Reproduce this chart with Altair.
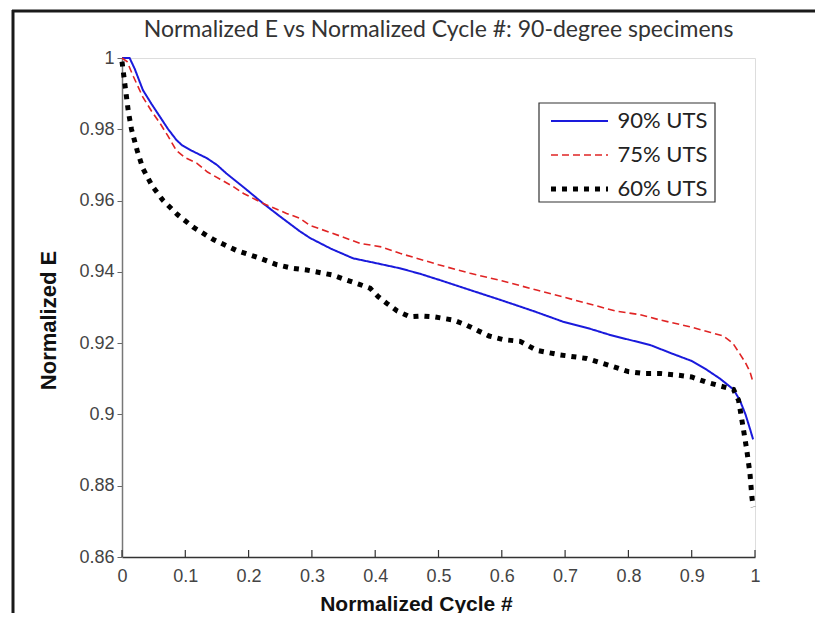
import altair as alt
import pandas as pd

series_names = ["90% UTS", "75% UTS", "60% UTS"]
series_colors = ["#1a1adc", "#e02424", "#000000"]
series_dashes = [[1, 0], [7, 4], [5, 6]]

x_90 = [0.0, 0.012, 0.02, 0.033, 0.047, 0.06, 0.073, 0.086, 0.095, 0.11, 0.134, 0.15, 0.165, 0.191,
        0.223, 0.25, 0.28, 0.297, 0.33, 0.365, 0.4, 0.439, 0.47, 0.502, 0.55, 0.6, 0.65, 0.697, 0.74,
        0.771, 0.80, 0.834, 0.87, 0.9, 0.924, 0.945, 0.966, 0.976, 0.985, 0.992, 0.997]
y_90 = [1.0, 1.0, 0.997, 0.991, 0.987, 0.9835, 0.980, 0.977, 0.9755, 0.974, 0.9719, 0.970, 0.9676,
        0.9639, 0.9592, 0.9555, 0.9515, 0.9495, 0.9465, 0.9438, 0.9425, 0.941, 0.9395, 0.9377, 0.9349,
        0.932, 0.929, 0.926, 0.924, 0.9223, 0.921, 0.9195, 0.917, 0.915, 0.9125, 0.910, 0.907, 0.904,
        0.900, 0.896, 0.893]

x_75 = [0.0, 0.008, 0.018, 0.033, 0.047, 0.06, 0.073, 0.086, 0.1, 0.118, 0.135, 0.155, 0.175, 0.192,
        0.223, 0.26, 0.281, 0.297, 0.33, 0.376, 0.41, 0.439, 0.5, 0.55, 0.6, 0.655, 0.7, 0.734, 0.78,
        0.818, 0.85, 0.897, 0.93, 0.95, 0.965, 0.976, 0.985, 0.992, 0.997]
y_75 = [1.0, 0.999, 0.9948, 0.989, 0.985, 0.9817, 0.978, 0.974, 0.972, 0.9705, 0.968, 0.966, 0.964,
        0.962, 0.9592, 0.9564, 0.955, 0.953, 0.951, 0.948, 0.947, 0.9452, 0.942, 0.9396, 0.9375, 0.9349,
        0.9328, 0.9312, 0.929, 0.928, 0.9265, 0.9246, 0.923, 0.922, 0.920, 0.917, 0.9145, 0.912, 0.909]

x_60 = [0.0, 0.005, 0.01, 0.015, 0.024, 0.033, 0.048, 0.065, 0.088, 0.112, 0.145, 0.181, 0.215, 0.245,
        0.27, 0.292, 0.333, 0.355, 0.375, 0.392, 0.405, 0.418, 0.435, 0.455, 0.475, 0.492, 0.523, 0.545,
        0.560, 0.58, 0.602, 0.629, 0.655, 0.692, 0.734, 0.76, 0.776, 0.8, 0.823, 0.85, 0.88, 0.9, 0.924,
        0.945, 0.966, 0.974, 0.981, 0.987, 0.992, 0.995, 0.997]
y_60 = [0.999, 0.992, 0.985, 0.980, 0.974, 0.969, 0.964, 0.960, 0.956, 0.9526, 0.949, 0.946, 0.944,
        0.942, 0.941, 0.9405, 0.9391, 0.9377, 0.9365, 0.9354, 0.933, 0.9312, 0.929, 0.9274, 0.9276,
        0.9274, 0.9265, 0.925, 0.9237, 0.922, 0.921, 0.9205, 0.918, 0.9167, 0.9157, 0.9143, 0.9134,
        0.912, 0.9115, 0.9115, 0.911, 0.9105, 0.909, 0.908, 0.907, 0.904, 0.8966, 0.890, 0.8835, 0.877,
        0.874]

x_ticks = [0, 0.1, 0.2, 0.3, 0.4, 0.5, 0.6, 0.7, 0.8, 0.9, 1.0]
y_ticks = [0.86, 0.88, 0.9, 0.92, 0.94, 0.96, 0.98, 1.0]
title_text = "Normalized E vs Normalized Cycle #: 90-degree specimens"

rows = []
for name, xs, ys in zip(series_names, [x_90, x_75, x_60], [y_90, y_75, y_60]):
    for xv, yv in zip(xs, ys):
        rows.append({"series": name, "x": xv, "y": yv})
df = pd.DataFrame(rows)
tick_df = pd.DataFrame({"t": x_ticks})
one_df = pd.DataFrame({"k": [0]})

label_font = "Liberation Sans"

xscale = alt.Scale(domain=[0, 1], nice=False, zero=False)
yscale = alt.Scale(domain=[0.86, 1.0], nice=False, zero=False)

width_expr = "datum.value === '60% UTS' ? 5 : (datum.value === '90% UTS' ? 2 : 1.6)"

legend = alt.Legend(
    title=None, orient="none", legendX=429, legendY=52, padding=0,
    symbolType="stroke", symbolSize=3250, symbolOffset=17.5,
    labelFont="Lato", labelFontSize=22, labelColor="#222", labelOffset=27, rowPadding=12,
    symbolStrokeWidth=alt.ExprRef(expr=width_expr),
)

stroke_width = (
    alt.when(alt.datum.series == "60% UTS").then(alt.value(5))
    .when(alt.datum.series == "90% UTS").then(alt.value(2))
    .otherwise(alt.value(1.6))
)

box = alt.Chart(one_df).mark_rect(fill="white", stroke="#333", strokeWidth=1.2).encode(
    x=alt.value(417), x2=alt.value(593), y=alt.value(45), y2=alt.value(144)
)

lines = alt.Chart(df).mark_line(strokeCap="butt").encode(
    x=alt.X("x:Q", scale=xscale, axis=alt.Axis(
        values=x_ticks, format="~g", title="Normalized Cycle #", ticks=False, tickSize=0,
        labelPadding=10, labelFlush=False, labelFont=label_font, labelFontSize=18, labelColor="#444",
        domainColor="#333", domainWidth=1.5, grid=False, titleFont=label_font,
        titleFontSize=21, titleFontWeight="bold", titleColor="#111", titlePadding=8, titleX=294)),
    y=alt.Y("y:Q", scale=yscale, axis=alt.Axis(
        values=y_ticks, format="~g", title="Normalized E", tickSize=5, tickColor="#666",
        labelPadding=3, labelFlush=False, labelFont=label_font, labelFontSize=18, labelColor="#444",
        domainColor="#777", domainWidth=1.5, grid=False, titleFont=label_font,
        titleFontSize=22, titleFontWeight="bold", titleColor="#111", titlePadding=18, titleY=262)),
    color=alt.Color("series:N", scale=alt.Scale(domain=series_names, range=series_colors), legend=legend),
    strokeDash=alt.StrokeDash("series:N", scale=alt.Scale(domain=series_names, range=series_dashes), legend=legend),
    strokeWidth=stroke_width,
)

xticks = alt.Chart(tick_df).mark_rule(color="#333", strokeWidth=1.2).encode(
    x=alt.X("t:Q", scale=xscale), y=alt.value(499), y2=alt.value(492)
)

title = alt.Chart(one_df).mark_text(
    text=title_text, font="Lato", fontSize=23, color="#333", align="center", baseline="middle"
).encode(x=alt.value(316.5), y=alt.value(-28))

frame_left = alt.Chart(one_df).mark_rule(color="#1a1a1a", strokeWidth=3).encode(
    x=alt.value(-109), y=alt.value(-48), y2=alt.value(560)
)
frame_top = alt.Chart(one_df).mark_rule(color="#1a1a1a", strokeWidth=3).encode(
    y=alt.value(-47), x=alt.value(-110), x2=alt.value(700)
)

chart = alt.layer(box, lines, xticks, title, frame_left, frame_top).properties(
    width=633, height=499,
    autosize=alt.AutoSizeParams(type="none"),
    padding={"left": 114, "top": 50, "right": 60, "bottom": 56},
).configure_view(stroke=None).configure(background="white")

chart.save("out.html", embed_options={"renderer": "svg", "actions": False})
